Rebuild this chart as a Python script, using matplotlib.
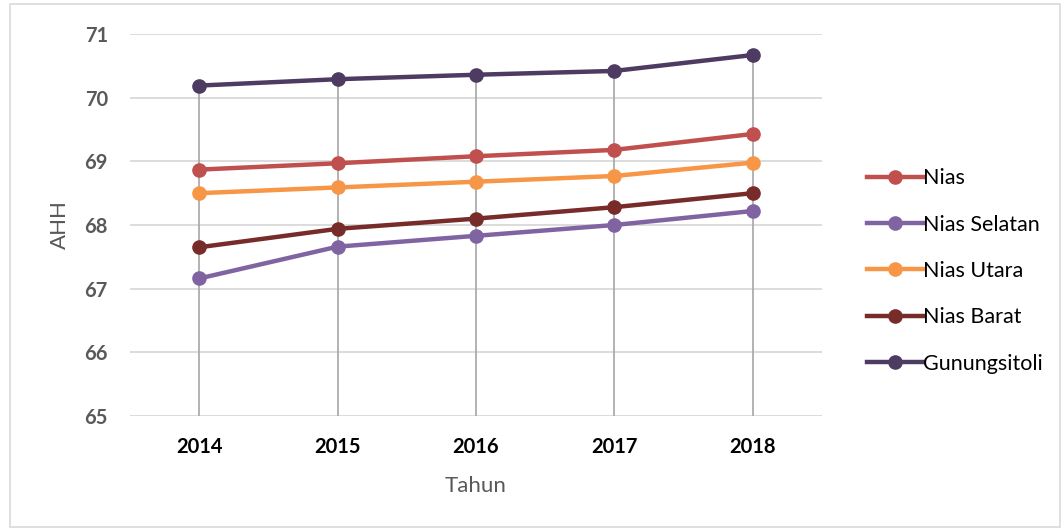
import matplotlib
matplotlib.use("Agg")
import matplotlib.pyplot as plt
from matplotlib.patches import Rectangle

years = ["2014", "2015", "2016", "2017", "2018"]
nias = [68.87, 68.97, 69.08, 69.18, 69.43]
nias_selatan = [67.16, 67.66, 67.83, 68.00, 68.22]
nias_utara = [68.50, 68.59, 68.68, 68.77, 68.98]
nias_barat = [67.65, 67.94, 68.10, 68.28, 68.50]
gunungsitoli = [70.19, 70.29, 70.36, 70.42, 70.67]

series = [
    ("Nias", nias, "#C0504D"),
    ("Nias Selatan", nias_selatan, "#8064A2"),
    ("Nias Utara", nias_utara, "#F79646"),
    ("Nias Barat", nias_barat, "#772C2A"),
    ("Gunungsitoli", gunungsitoli, "#4D3B62"),
]

plt.rcParams['font.family'] = ['Lato', 'DejaVu Sans']

fig = plt.figure(figsize=(10.64, 5.30), dpi=100)
fig.patches.append(Rectangle((10/1064, 3/530), 1050/1064, 523/530, transform=fig.transFigure,
                             fill=False, edgecolor="#D9D9D9", linewidth=1.2))
ax = fig.add_axes([130/1064, 114/530, 692/1064, 382/530])

x = list(range(len(years)))
# drop lines
tops = [max(vals) for vals in zip(*[s[1] for s in series])]
ax.vlines(x, 65, tops, color="#A6A6A6", linewidth=1.2, zorder=2)

for name, vals, col in series:
    ax.plot(x, vals, color=col, linewidth=3.2, marker="o", markersize=9.5, label=name, zorder=3)

ax.set_xlim(-0.5, 4.5)
ax.set_ylim(65, 71)
ax.set_yticks(range(65, 72))
ax.set_xticks(x)
ax.set_xticklabels(years)
ax.yaxis.grid(True, color="#D9D9D9", linewidth=1.3)
ax.set_axisbelow(True)
for sp in ax.spines.values():
    sp.set_visible(False)
ax.tick_params(axis="both", length=0)
ax.tick_params(axis="y", pad=16, labelsize=14.5, labelcolor="#595959")
ax.tick_params(axis="x", pad=15, labelsize=14.5, labelcolor="#000000")
for lab in ax.get_yticklabels() + ax.get_xticklabels():
    lab.set_fontweight("bold")

ax.set_ylabel("AHH", fontsize=16, color="#595959", labelpad=10)
ax.set_xlabel("Tahun", fontsize=16, color="#595959", labelpad=14)

leg = ax.legend(loc="center left", bbox_to_anchor=(848/1064, 259/530),
                bbox_transform=fig.transFigure, frameon=False, fontsize=15.5,
                handlelength=2.6, handletextpad=0.0, labelspacing=1.22)

fig.savefig("out.png", dpi=100)
